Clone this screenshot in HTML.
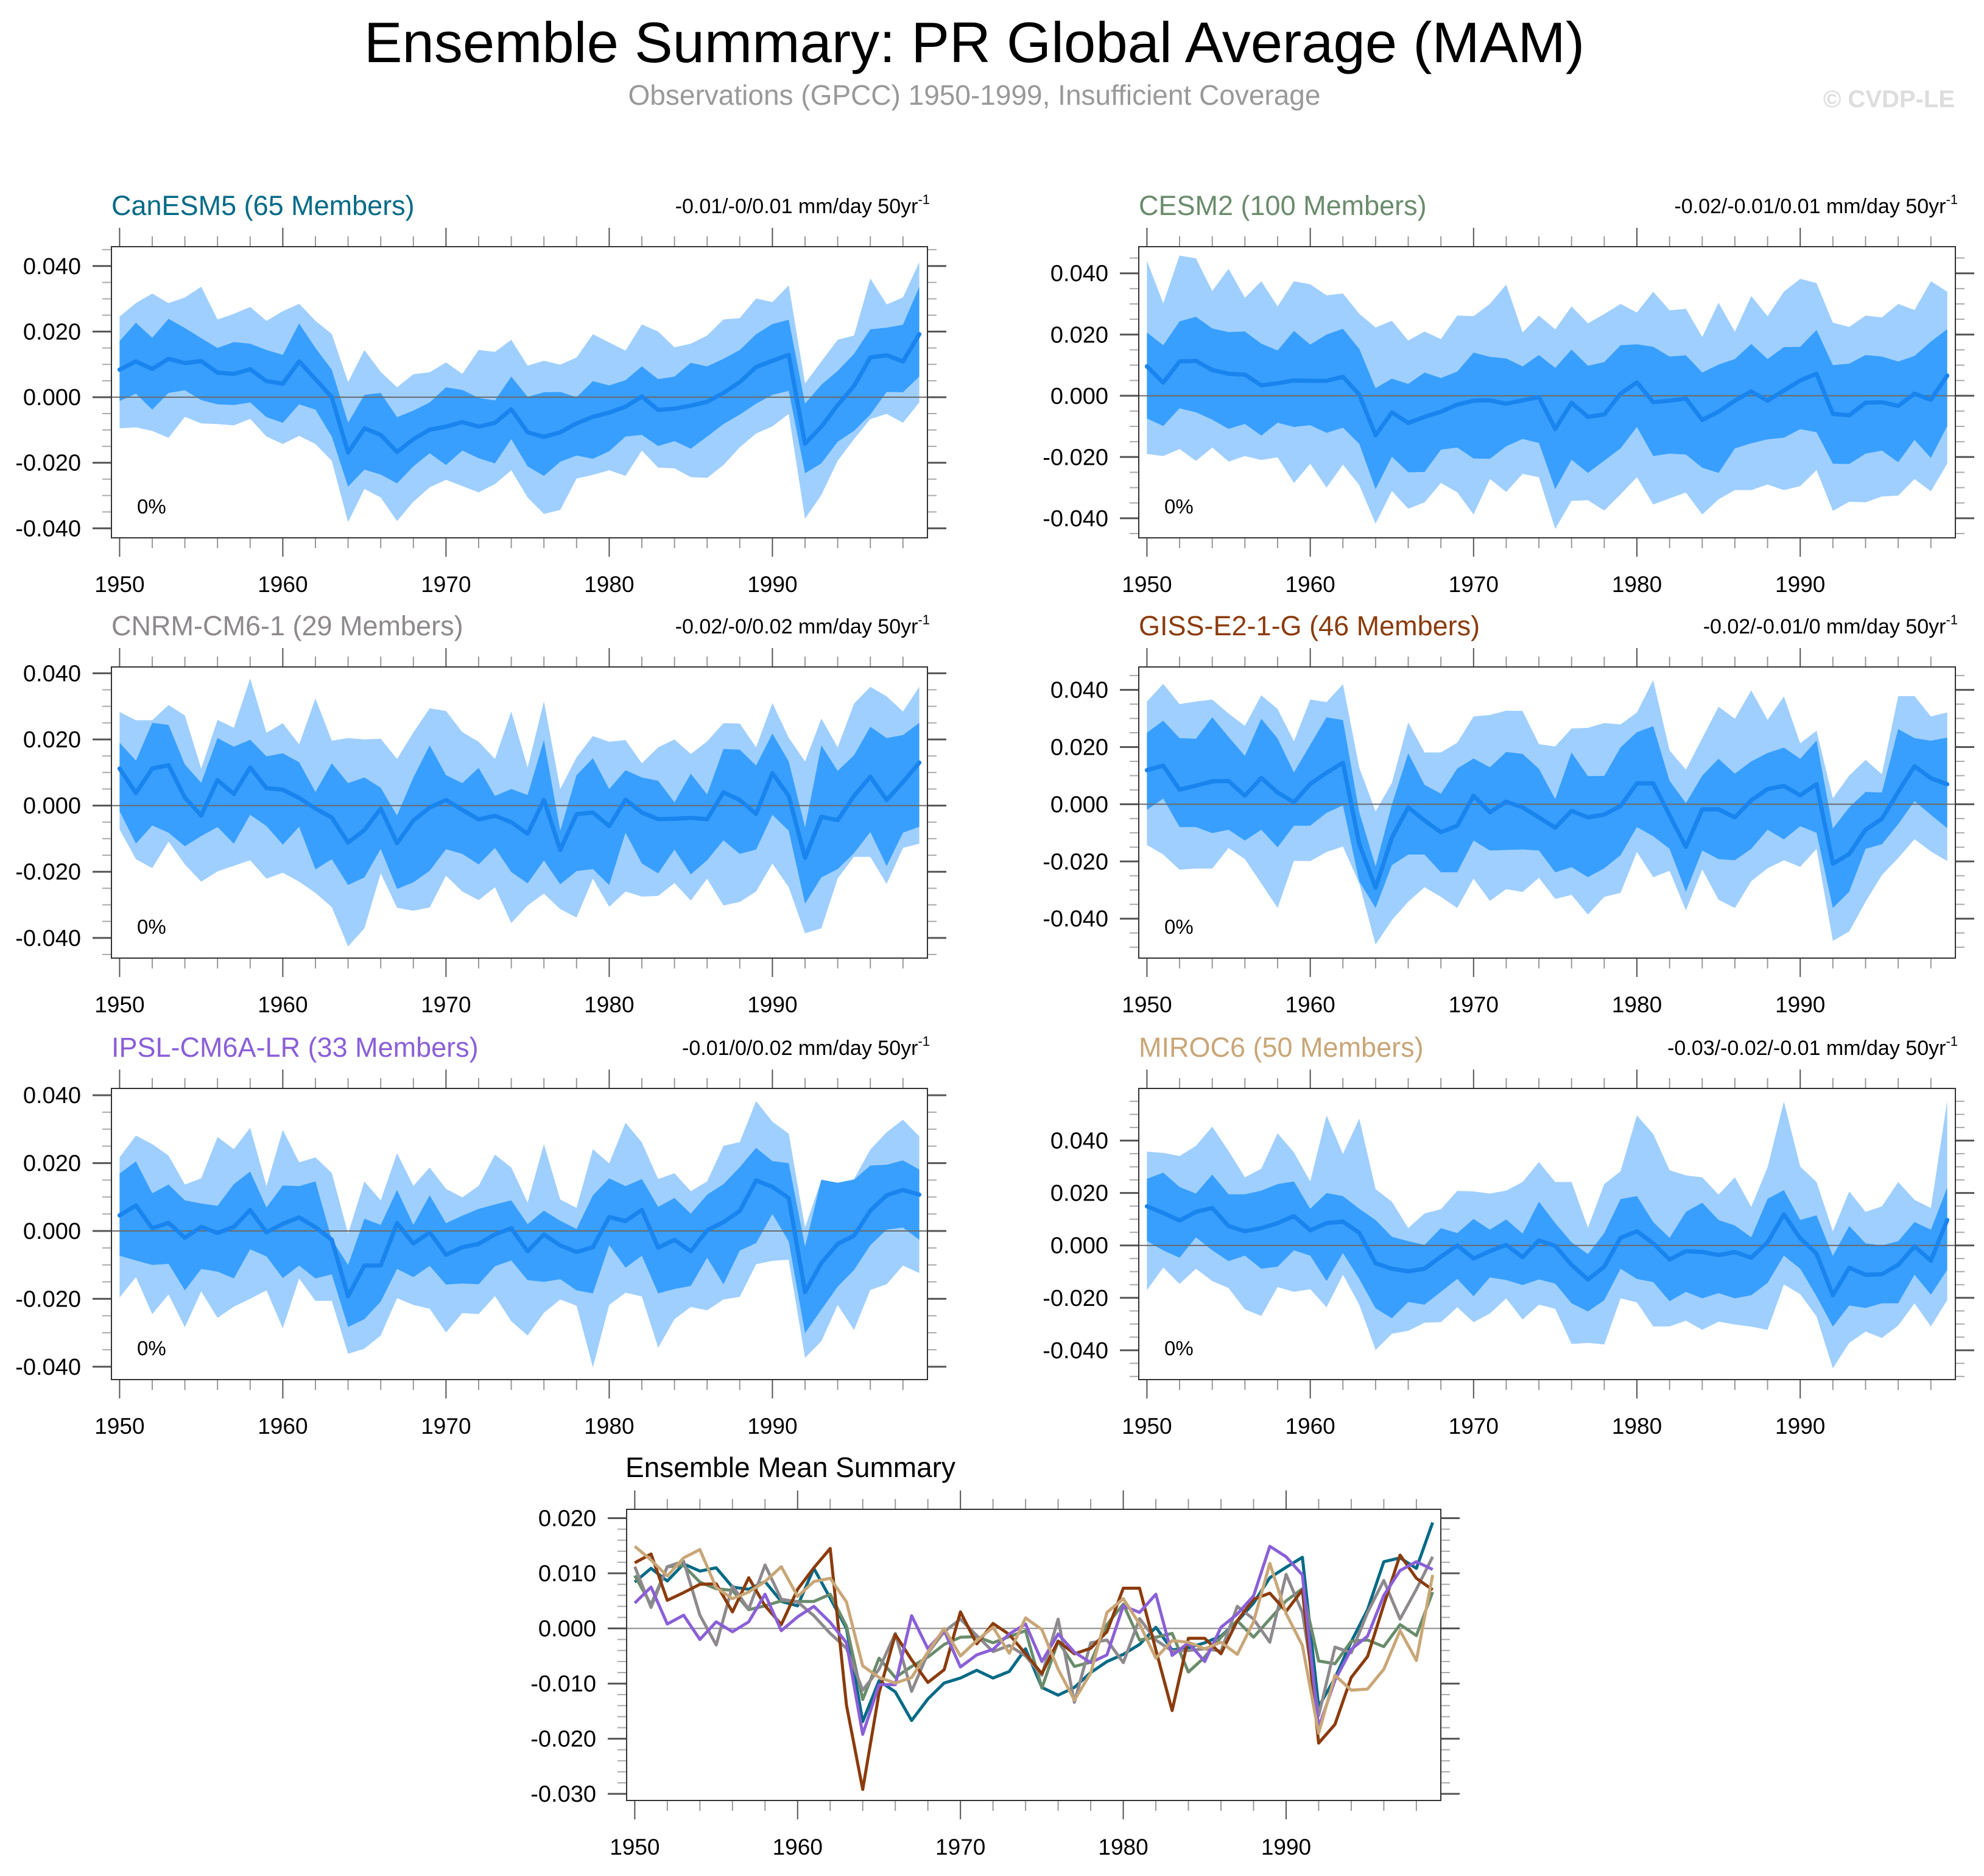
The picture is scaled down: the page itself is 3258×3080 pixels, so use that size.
<!DOCTYPE html>
<html><head><meta charset="utf-8">
<style>
html,body{margin:0;padding:0;background:#fff;}
body{width:3258px;height:3075px;overflow:hidden;font-family:"Liberation Sans",Arial,sans-serif;}
svg text{font-family:"Liberation Sans",Arial,sans-serif;}
</style></head>
<body>
<svg id="chart" xmlns="http://www.w3.org/2000/svg" width="3258" height="3075" viewBox="0 0 3258 3075">
<rect x="0" y="0" width="3258" height="3075" fill="#fff"/>
<text x="1600" y="102" font-size="94" text-anchor="middle" fill="#000">Ensemble Summary: PR Global Average (MAM)</text>
<text x="1600" y="172" font-size="46" text-anchor="middle" fill="#999">Observations (GPCC) 1950-1999, Insufficient Coverage</text>
<text x="3210" y="176" font-size="40" font-weight="bold" text-anchor="end" fill="#ddd">© CVDP-LE</text>
</svg>
<script>
// values in thousandths of mm/day, years 1950..1999
const yearTicks=[1950,1960,1970,1980,1990];
const panelTickLabels=["0.040","0.020","0.000","-0.020","-0.040"];
const panelTickValues=[40,20,0,-20,-40];
const summaryTickLabels=["0.020","0.010","0.000","-0.010","-0.020","-0.030"];
const summaryTickValues=[20,10,0,-10,-20,-30];
const modelNames=["CanESM5 (65 Members)","CESM2 (100 Members)","CNRM-CM6-1 (29 Members)","GISS-E2-1-G (46 Members)","IPSL-CM6A-LR (33 Members)","MIROC6 (50 Members)"];
const trendLabels=["-0.01/-0/0.01","-0.02/-0.01/0.01","-0.02/-0/0.02","-0.02/-0.01/0","-0.01/0/0.02","-0.03/-0.02/-0.01"];

const canMean=[8.4,10.9,8.6,11.7,10.4,11.0,7.5,7.1,8.5,4.9,4.1,10.9,5.5,0,-16.9,-9.5,-11.5,-16.7,-12.8,-9.9,-9.0,-7.6,-9.0,-7.8,-3.7,-10.7,-12.1,-10.7,-8.0,-6.0,-4.7,-2.9,0.2,-3.9,-3.5,-2.6,-1.4,1.3,4.6,9.2,11.1,12.9,-14.2,-9.0,-2.4,3.4,12.1,12.8,10.9,19.2];
const canDarkHi=[17.1,22.7,18.1,23.9,21.1,18.0,15.0,16.8,16.3,14.4,12.9,22.5,15.0,8.4,-7.8,0.7,1.3,-6.1,-4.1,-1.6,3.0,2.2,-0.2,-1.0,6.3,0.1,1.5,1.6,0,4.9,3.6,5.2,9.4,5.5,6.3,10.5,9.4,11.7,14.4,19.2,22.3,23.6,-2.0,3.8,8.0,13.2,20.7,21.2,22.1,33.7];
const canDarkLo=[-1.2,1.1,-3.8,1.3,2.1,-0.9,-2.2,-2.4,-1.6,-6.1,-7.8,-2.2,-3.8,-12.0,-27.3,-22.1,-23.6,-26.3,-21.1,-17.1,-20.7,-16.3,-18.6,-20.2,-12.8,-21.1,-24.0,-19.7,-17.8,-18.8,-16.5,-12.0,-11.5,-14.9,-13.4,-15.7,-12.0,-8.2,-5.3,-2.0,0.7,1.9,-23.2,-20.2,-13.6,-10.3,-5.3,1.6,1.5,6.3];
const canLightHi=[24.6,28.7,31.6,28.7,30.4,33.7,23.7,25.4,27.5,23.3,26.2,28.5,23.3,19.3,4.6,14.4,7.7,3.0,7.0,7.6,10.6,7.1,14.4,13.8,17.5,9.6,11.1,9.9,12.1,19.2,16.7,14.2,22.2,20.0,15.2,16.3,18.8,23.7,24.1,30.1,29.0,34.1,4.2,10.9,17.5,18.8,36.2,28.3,30.4,41.2];
const canLightLo=[-9.5,-9.2,-10.3,-12.4,-6.0,-8.0,-8.2,-8.6,-6.6,-12.0,-14.3,-11.8,-14.3,-19.4,-38.1,-28.0,-30.6,-37.8,-31.9,-27.5,-25.2,-27.1,-29.0,-26.5,-22.3,-30.6,-35.6,-34.4,-24.8,-23.7,-22.3,-24.0,-16.3,-21.5,-21.7,-24.4,-24.6,-20.7,-15.3,-11.1,-8.9,-5.1,-37.1,-29.8,-19.4,-12.8,-6.7,-5.1,-7.8,-1.6];

const cesmMean=[9.6,4.3,11.2,11.4,8.4,7.2,6.9,3.4,4.1,5.0,4.9,4.9,6.2,0.4,-12.9,-5.4,-8.9,-6.9,-5.2,-2.9,-1.6,-1.5,-2.6,-1.5,-0.4,-10.8,-2.3,-6.9,-6.1,0.7,4.4,-2.1,-1.6,-0.9,-7.9,-5.2,-1.6,1.4,-1.6,1.7,5.0,7.2,-5.9,-6.4,-2.3,-2.1,-3.3,0.7,-1.3,6.6];
const cesmDarkHi=[20.7,16.5,24.3,25.8,22.0,20.8,21.0,17.0,14.8,21.2,16.7,20.0,21.9,15.3,2.5,5.6,3.9,7.6,5.8,7.9,14.1,12.7,12.2,9.6,13.3,9.1,15.1,9.8,11.0,16.5,16.8,16.0,12.8,13.2,7.6,10.2,12.0,16.9,12.0,15.9,16.0,21.5,10.0,10.5,13.3,12.8,11.2,13.0,17.7,21.8];
const cesmDarkLo=[-7.4,-9.9,-4.1,-5.4,-7.8,-10.8,-9.2,-13.0,-8.8,-10.2,-9.6,-12.1,-10.4,-15.7,-30.5,-19.9,-25.0,-24.9,-17.6,-16.9,-20.5,-20.6,-16.5,-14.1,-15.4,-30.5,-20.9,-25.2,-21.2,-17.2,-10.2,-19.7,-18.9,-19.2,-23.5,-25.2,-17.2,-15.5,-14.2,-13.7,-10.9,-11.9,-22.2,-22.3,-18.9,-17.9,-21.7,-14.4,-20.3,-9.9];
const cesmLightHi=[44.1,30.2,45.8,44.9,34.2,41.5,32.0,37.4,29.2,37.4,36.4,32.8,33.4,26.8,22.3,24.5,18.0,21.0,18.5,26.2,26.0,30.0,36.3,20.7,26.2,21.7,29.2,23.7,26.7,30.0,27.2,34.0,27.9,28.4,19.2,30.4,20.9,32.6,26.0,34.0,38.2,36.8,23.9,22.5,26.2,25.6,30.0,28.0,37.4,34.0];
const cesmLightLo=[-19.0,-19.7,-17.4,-21.3,-16.9,-21.5,-19.7,-21.0,-20.1,-28.5,-22.2,-30.0,-22.5,-29.2,-41.8,-31.1,-36.9,-34.8,-28.5,-31.5,-38.8,-27.2,-31.4,-25.5,-26.6,-43.5,-34.3,-34.1,-37.5,-32.2,-26.6,-35.5,-33.5,-31.6,-38.8,-33.8,-30.8,-30.8,-29.0,-30.8,-29.5,-24.3,-37.6,-34.6,-34.8,-32.9,-32.6,-27.2,-31.2,-22.2];

const cnrmMean=[11.2,3.8,11.2,12.2,2.4,-3.0,7.7,3.5,11.5,5.3,4.8,2.3,-0.9,-3.6,-11.2,-7.4,-0.9,-11.4,-4.5,-0.6,1.7,-1.3,-4.2,-3.1,-5.0,-8.5,1.7,-13.4,-2.6,-2.1,-6.2,1.8,-2.1,-4.1,-4.0,-3.7,-4.1,4.0,1.7,-2.5,9.8,2.9,-15.8,-3.4,-4.4,2.9,8.7,1.7,7.1,13.0];
const cnrmDarkHi=[19.0,13.6,25.0,24.4,12.4,6.9,20.4,17.8,19.9,14.9,15.8,13.1,4.1,12.8,6.8,8.5,5.4,-3.0,8.5,18.2,9.2,6.8,11.4,2.9,5.0,3.2,19.8,-7.6,9.2,14.3,5.0,10.7,8.5,7.5,1.0,9.6,3.4,17.1,16.9,12.1,21.8,13.3,-6.6,18.2,10.5,15.2,23.8,20.4,21.3,25.0];
const cnrmDarkLo=[-1.7,-11.5,-6.0,-8.2,-12.3,-9.2,-6.5,-11.5,-2.8,-6.2,-11.8,-6.4,-19.3,-16.2,-24.0,-21.7,-13.1,-25.2,-23.2,-19.7,-13.2,-14.6,-17.8,-12.8,-20.1,-23.5,-16.6,-23.8,-19.8,-19.2,-24.0,-8.2,-17.5,-20.5,-13.3,-20.8,-16.5,-10.5,-14.6,-13.3,-2.8,-7.6,-29.7,-21.7,-19.2,-14.4,-8.0,-18.3,-8.2,-6.4];
const cnrmLightHi=[28.3,25.8,25.8,30.4,27.2,11.2,25.9,23.5,38.4,22.0,24.9,18.5,32.4,19.6,20.4,20.0,20.2,14.1,22.1,29.4,28.6,22.2,19.3,14.1,28.4,11.5,31.5,5.0,14.6,21.0,19.3,19.8,12.8,17.6,20.0,15.6,19.4,24.9,24.8,17.6,31.0,20.5,13.3,26.3,17.6,30.8,35.9,33.0,28.4,35.9];
const cnrmLightLo=[-7.2,-16.2,-18.9,-10.9,-17.8,-23.0,-19.9,-18.2,-16.5,-22.1,-20.3,-23.0,-26.4,-30.7,-42.6,-37.1,-20.5,-30.9,-31.8,-30.8,-21.2,-26.0,-28.6,-24.7,-35.5,-30.2,-26.6,-31.3,-33.8,-22.1,-30.6,-26.0,-27.5,-27.3,-23.4,-28.7,-22.1,-30.2,-29.1,-26.0,-17.5,-24.7,-38.6,-37.1,-22.0,-15.5,-15.5,-23.7,-12.8,-11.5];

const gissMean=[11.9,13.5,5.1,6.5,8.0,8.1,3.0,9.2,4.1,0.7,7.1,11.0,14.5,-13.9,-29.2,-11.7,-1.1,-5.7,-9.8,-7.5,3.0,-2.8,0.9,-1.1,-4.6,-8.2,-2.3,-4.6,-3.6,-0.6,7.3,7.3,-3.9,-14.9,-1.8,-1.8,-4.6,1.4,5.3,6.4,3.1,7.0,-20.8,-17.4,-8.9,-5.1,4.3,13.3,9.1,7.0];
const gissDarkHi=[25.0,29.2,23.1,22.9,30.4,23.5,16.9,29.9,23.0,11.1,20.8,30.4,29.4,-2.8,-21.7,-0.1,17.8,6.8,3.7,12.5,16.0,12.9,18.3,17.6,12.4,1.8,18.1,9.8,9.9,19.9,25.2,27.3,8.2,0.4,10.0,15.9,10.7,15.0,17.9,19.8,15.9,22.3,-8.5,-1.1,4.3,4.1,26.3,23.1,22.2,23.3];
const gissDarkLo=[-2.0,2.0,-8.0,-8.0,-10.1,-8.9,-12.7,-8.9,-15.1,-7.5,-7.5,-3.0,-0.4,-27.0,-36.3,-21.3,-17.6,-17.6,-23.8,-23.8,-12.7,-16.2,-16.0,-15.8,-16.2,-23.8,-22.0,-25.5,-22.4,-17.8,-8.0,-11.2,-15.6,-30.6,-16.2,-19.2,-19.6,-15.6,-8.9,-12.3,-7.7,-10.0,-36.3,-30.6,-15.6,-14.0,-7.0,1.1,-3.7,-8.4];
const gissLightHi=[35.9,42.1,35.0,35.9,36.6,31.7,27.4,38.1,33.3,22.0,36.6,35.7,42.0,12.8,-2.5,7.5,28.6,18.1,18.1,21.5,30.7,31.2,32.7,32.6,21.0,20.2,26.5,26.7,28.4,27.9,32.1,43.4,18.8,12.1,23.1,34.1,29.9,39.8,29.5,37.7,21.3,25.7,2.1,10.0,15.5,10.5,37.8,37.8,30.7,32.1];
const gissLightLo=[-14.2,-17.6,-22.9,-22.5,-22.5,-15.3,-19.2,-27.7,-36.3,-19.8,-19.9,-16.7,-14.8,-27.7,-49.1,-40.5,-34.1,-29.0,-32.4,-36.3,-26.0,-33.8,-29.7,-30.7,-25.7,-33.1,-31.7,-38.6,-32.4,-31.0,-16.7,-25.5,-23.3,-37.1,-22.8,-33.4,-36.3,-26.9,-22.4,-19.6,-21.9,-15.6,-47.8,-44.5,-34.1,-24.8,-18.8,-12.2,-16.5,-19.9];

const ipslMean=[4.6,7.5,0.8,2.4,-2.0,1.2,-0.6,1.2,6.2,-0.4,2.1,4.0,1.1,-2.6,-19.2,-10.2,-10.2,2.3,-3.7,-0.4,-7.0,-4.8,-3.8,-1.0,0.8,-6.0,-1.0,-4.3,-6.2,-4.8,4.1,2.9,6.2,-4.9,-2.6,-6.0,0.2,2.6,5.9,14.9,13.0,9.7,-18.0,-9.4,-3.8,-1.4,6.0,10.5,12.1,10.7];
const ipslDarkHi=[16.9,20.5,11.1,13.7,9.0,8.1,7.4,13.8,17.5,6.9,13.4,13.2,14.6,-2.5,-10.0,3.6,1.8,12.1,1.8,10.5,2.3,4.5,6.5,7.8,9.0,2.0,6.0,3.0,0.6,10.5,15.5,13.2,15.3,7.1,9.7,5.1,10.7,13.8,18.8,24.5,20.6,20.0,-4.6,15.1,14.2,15.1,19.3,19.5,20.8,18.1];
const ipslDarkLo=[-7.3,-8.7,-10.0,-9.7,-17.5,-11.2,-12.0,-14.0,-5.4,-7.5,-13.9,-10.2,-14.0,-12.8,-28.3,-26.0,-20.8,-11.2,-13.6,-10.3,-15.8,-15.5,-15.7,-10.4,-8.7,-14.5,-15.0,-14.2,-17.5,-18.4,-4.2,-10.8,-7.3,-18.4,-17.1,-16.2,-7.9,-15.7,-5.8,-3.6,5.0,-3.1,-30.1,-23.2,-16.4,-11.5,-4.2,0.4,1.0,-2.6];
const ipslLightHi=[21.7,28.1,25.6,22.2,13.7,15.5,27.7,24.1,30.4,13.2,29.8,20.2,21.7,17.1,-0.8,14.6,9.0,22.9,13.3,18.7,12.4,9.9,13.3,22.5,18.7,8.4,25.6,9.3,6.8,24.1,19.9,31.9,26.1,15.3,17.0,11.7,14.6,25.1,26.2,38.3,32.2,28.7,1.0,15.1,14.2,15.3,24.0,29.1,32.8,27.9];
const ipslLightLo=[-19.6,-13.6,-24.5,-18.7,-28.4,-17.8,-25.6,-22.3,-20.0,-17.5,-28.7,-14.0,-20.6,-20.6,-36.2,-34.7,-30.8,-19.8,-21.8,-22.9,-29.9,-24.2,-24.5,-19.2,-26.6,-30.8,-24.1,-20.2,-22.0,-40.2,-21.8,-18.2,-19.3,-34.4,-26.0,-22.4,-23.4,-20.2,-19.4,-9.8,-8.8,-8.5,-37.4,-32.5,-21.8,-29.2,-17.4,-15.7,-10.2,-12.4];

const mirocMean=[14.9,12.4,9.5,12.8,14.3,7.4,5.4,6.6,8.5,11.2,5.8,8.5,9.1,4.8,-6.8,-8.9,-9.9,-8.9,-4.3,0,-5.0,-2.2,0.2,-4.5,1.9,-0.2,-7.4,-13.0,-8.1,2.9,5.4,0.8,-5.4,-2.2,-2.5,-3.7,-2.5,-4.7,1.2,11.8,2.7,-3.1,-19.0,-8.5,-11.2,-11.0,-7.4,-0.4,-5.8,9.7];
const mirocDarkHi=[25.4,27.8,22.3,19.8,27.0,19.5,19.5,20.9,23.4,24.4,14.0,20.0,18.8,14.0,9.7,3.3,1.6,0.2,6.6,4.7,10.1,6.0,9.9,4.5,16.7,8.5,1.2,-3.3,4.7,17.7,18.8,8.9,2.9,12.8,16.3,9.7,7.6,3.1,17.8,21.1,9.7,11.5,-4.0,7.4,0.8,0,1.6,8.9,6.0,22.1];
const mirocDarkLo=[1.7,-1.9,-4.7,3.1,-1.9,-6.0,-3.9,-8.9,-8.1,-1.9,-3.9,-13.6,-2.9,-12.8,-24.0,-27.8,-21.6,-22.6,-17.7,-12.8,-19.4,-12.2,-13.2,-15.1,-13.0,-14.6,-22.1,-25.2,-20.9,-8.9,-12.8,-14.0,-21.3,-17.7,-20.2,-18.2,-20.2,-19.0,-14.3,-3.9,-8.9,-19.4,-31.0,-22.9,-23.9,-22.1,-22.1,-11.2,-18.8,-9.3];
const mirocLightHi=[35.8,35.3,34.1,38.0,45.3,36.0,26.0,29.3,42.8,35.5,24.4,49.6,34.9,48.4,21.5,16.7,6.6,12.2,13.8,20.8,20.6,19.8,20.9,24.2,31.8,24.2,24.2,6.8,23.4,28.3,49.6,42.5,28.7,26.7,26.0,19.4,26.0,14.7,29.8,54.9,30.1,24.2,5.4,20.6,12.8,14.9,24.2,17.4,14.3,55.2];
const mirocLightLo=[-17.1,-8.4,-14.7,-8.9,-13.6,-16.3,-24.4,-26.9,-15.9,-17.7,-16.7,-23.6,-11.2,-22.6,-39.9,-33.7,-32.6,-29.5,-29.3,-23.6,-29.3,-26.0,-20.2,-28.3,-22.6,-24.2,-37.6,-37.2,-37.8,-20.2,-21.7,-30.9,-30.9,-28.7,-32.2,-29.1,-30.2,-31.0,-32.2,-14.9,-18.6,-27.1,-46.9,-37.2,-32.9,-35.3,-30.6,-22.1,-30.9,-20.9];

const NS="http://www.w3.org/2000/svg";
const svg=document.getElementById("chart");
const firstYear=1950;
function mk(tag,attrs,parent){const e=document.createElementNS(NS,tag);for(const k in attrs)e.setAttribute(k,attrs[k]);(parent||svg).appendChild(e);return e;}

const modelColors=["#006a86","#6a8c6c","#8d898d","#8b3b0c","#8a5fd8","#c9a677"];
const slugs=["canesm5","cesm2","cnrm-cm6-1","giss-e2-1-g","ipsl-cm6a-lr","miroc6"];
const panelData=[
 [canMean,canDarkHi,canDarkLo,canLightHi,canLightLo],
 [cesmMean,cesmDarkHi,cesmDarkLo,cesmLightHi,cesmLightLo],
 [cnrmMean,cnrmDarkHi,cnrmDarkLo,cnrmLightHi,cnrmLightLo],
 [gissMean,gissDarkHi,gissDarkLo,gissLightHi,gissLightLo],
 [ipslMean,ipslDarkHi,ipslDarkLo,ipslLightHi,ipslLightLo],
 [mirocMean,mirocDarkHi,mirocDarkLo,mirocLightHi,mirocLightLo]];
const panelBoxes=[[183,405,1523,883],[1870,405,3211,883],[183,1095,1523,1573],[1870,1095,3211,1573],[183,1787,1523,2265],[1870,1787,3211,2265]];
const panelRanges=[[-42.9,45.9],[-46.4,48.7],[-46.1,41.9],[-53.8,48.0],[-43.8,42.0],[-51.2,59.9]];

function axes(box,yr,xr){
  const [L,T,R,B]=box;
  const xs=yv=>L+(yv-xr[0])/(xr[1]-xr[0])*(R-L);
  const ys=v=>B-(v-yr[0])/(yr[1]-yr[0])*(B-T);
  return {xs,ys};
}
function drawFrameTicks(g,box,yr,xs,ys,tickVals,tickLabels,minorStep,lastYear){
  const [L,T,R,B]=box;
  for(let y=1950;y<=lastYear;y+=2){
    const major=(y%10===0);const len=major?31:17;const x=xs(y);
    mk("line",{x1:x,y1:B,x2:x,y2:B+len,stroke:major?"#555":"#999","stroke-width":2},g);
    mk("line",{x1:x,y1:T,x2:x,y2:T-len,stroke:major?"#555":"#999","stroke-width":2},g);
  }
  const lo=Math.ceil(yr[0]/minorStep)*minorStep;
  for(let v=lo;v<=yr[1]+1e-9;v+=minorStep){
    const isMajor=tickVals.some(t=>Math.abs(t-v)<1e-6);const len=isMajor?31:15;const y=ys(v);
    mk("line",{x1:L,y1:y,x2:L-len,y2:y,stroke:isMajor?"#555":"#aaa","stroke-width":isMajor?3:2},g);
    mk("line",{x1:R,y1:y,x2:R+len,y2:y,stroke:isMajor?"#555":"#aaa","stroke-width":isMajor?3:2},g);
  }
  mk("rect",{x:L,y:T,width:R-L,height:B-T,fill:"none",stroke:"#333","stroke-width":2},g);
  tickVals.forEach((v,i)=>{
    const t=mk("text",{x:L-50,y:ys(v)+13,"font-size":38,"text-anchor":"end",fill:"#000"},g);
    
    
    t.textContent=tickLabels[i];
  });
  yearTicks.forEach(y=>{
    const t=mk("text",{x:xs(y),y:B+89,"font-size":37,"text-anchor":"middle",fill:"#000"},g);
    
    
    t.textContent=String(y);
  });
}
function linePath(arr,xs,ys){return arr.map((v,i)=>(i?"L":"M")+xs(firstYear+i).toFixed(1)+","+ys(v).toFixed(1)).join(" ");}
function bandPath(hi,lo,xs,ys){
  let d=hi.map((v,i)=>(i?"L":"M")+xs(firstYear+i).toFixed(1)+","+ys(v).toFixed(1)).join(" ");
  for(let i=lo.length-1;i>=0;i--)d+=" L"+xs(firstYear+i).toFixed(1)+","+ys(lo[i]).toFixed(1);
  return d+" Z";
}

panelData.forEach((pd,p)=>{
  const box=panelBoxes[p],yr=panelRanges[p];
  const {xs,ys}=axes(box,yr,[1949.5,1999.5]);
  const g=mk("g",{});
  
  
  const [mean,dHi,dLo,lHi,lLo]=pd;
  const lb=mk("path",{d:bandPath(lHi,lLo,xs,ys),fill:"#9fcfff"},g);
  
  
  const db=mk("path",{d:bandPath(dHi,dLo,xs,ys),fill:"#389fff"},g);
  
  
  const z=mk("line",{x1:box[0],x2:box[2],y1:ys(0),y2:ys(0),stroke:"#6a6a6a","stroke-width":2},g);
  
  
  const ml=mk("path",{d:linePath(mean,xs,ys),fill:"none",stroke:"#1a84ee","stroke-width":7,"stroke-linejoin":"round","stroke-linecap":"round"},g);
  
  
  drawFrameTicks(g,box,yr,xs,ys,panelTickValues,panelTickLabels,5,1999);
  const tt=mk("text",{x:box[0],y:box[1]-52,"font-size":45,fill:modelColors[p]},g);
  
  
  tt.textContent=modelNames[p];
  const tr=mk("text",{x:box[2]+4,y:box[1]-55,"font-size":34,"text-anchor":"end",fill:"#000"},g);
  
  
  tr.textContent=trendLabels[p]+" mm/day 50yr";
  const sup=mk("tspan",{"font-size":22,dy:-15},tr);
  sup.textContent="-1";
  const pc=mk("text",{x:box[0]+42,y:box[3]-40,"font-size":33,fill:"#000"},g);
  
  
  pc.textContent="0%";
});

(function(){
  const box=[1029,2478,2366,2956],yr=[-31.2,21.6];
  const {xs,ys}=axes(box,yr,[1949.5,1999.5]);
  const g=mk("g",{});
  
  
  const z=mk("line",{x1:box[0],x2:box[2],y1:ys(0),y2:ys(0),stroke:"#888","stroke-width":2},g);
  
  
  panelData.forEach((pd,p)=>{
    const l=mk("path",{d:linePath(pd[0],xs,ys),fill:"none",stroke:modelColors[p],"stroke-width":5,"stroke-linejoin":"round"},g);
    
    
  });
  drawFrameTicks(g,box,yr,xs,ys,summaryTickValues,summaryTickLabels,2,1999);
  const t=mk("text",{x:1027,y:2425,"font-size":46,fill:"#000"},g);
  
  
  t.textContent="Ensemble Mean Summary";
})();
</script>
</body></html>
